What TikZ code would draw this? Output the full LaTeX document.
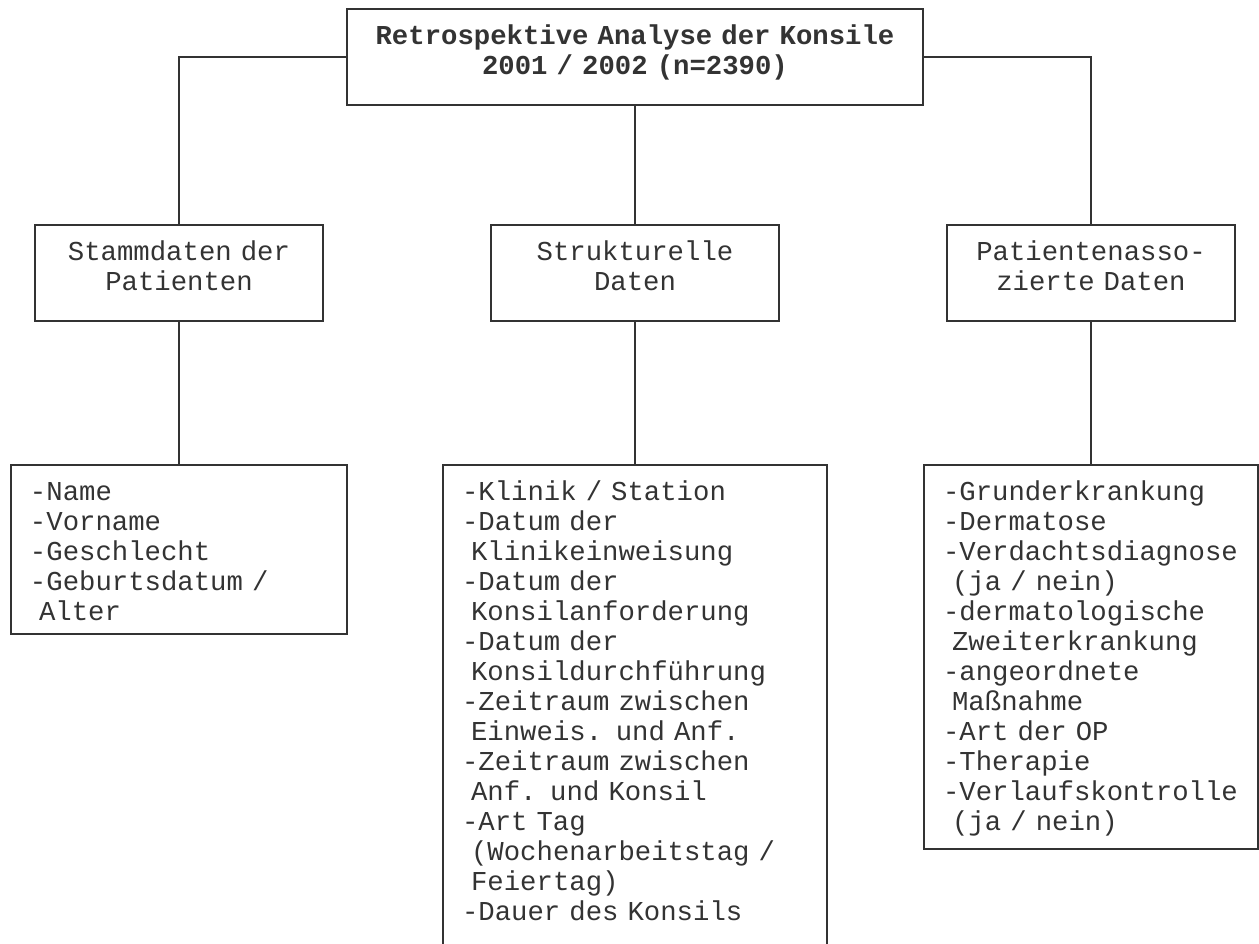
\documentclass[tikz,border=0pt]{standalone}
\usepackage{fontspec}
\setmonofont{Liberation Mono}
\newlength{\pxlen}
\setlength{\pxlen}{0.5pt}
% full-width spaces as in a typewriter face
\newcommand{\fixspace}{\fontdimen2\font=0.6em\fontdimen3\font=0pt\fontdimen4\font=0pt\relax}

\begin{document}
\begin{tikzpicture}
  [x=0.5pt,y=-0.5pt,line width=1pt,black!80,
  every node/.style={font=\ttfamily\fontsize{13.65}{15}\selectfont\fixspace,
  draw,inner ysep=0pt,inner xsep=19\pxlen,text height=35\pxlen,anchor=north},
	head node/.style={align=center,inner xsep=10\pxlen,text width=556\pxlen,
  text depth=61\pxlen,font=\ttfamily\bfseries\fontsize{13.65}{15}\selectfont\fixspace},
	group node/.style={align=center,text width=250\pxlen,text depth=61\pxlen},
	list node/.style={align=left}]

  \useasboundingbox (0,0) rectangle (1259,943);
  \clip (0,0) rectangle (1259,943);

  \node[head node] (K) at (635,8) {Retrospektive Analyse der Konsile\\2001 / 2002 (n=2390)};
  \node[group node] (S) at (179,224) {Stammdaten der\\Patienten};
  \node[group node] (T) at (635,224) {Strukturelle\\Daten};
  \node[group node] (P) at (1091,224) {Patientenasso-\\zierte Daten};

  \node[list node,text width=298\pxlen,text depth=134\pxlen] (Sl) at (179,464)
    {-Name\\-Vorname\\-Geschlecht\\-Geburtsdatum /\\~Alter};
  % bottom of this box lies below the picture edge
  \node[list node,text width=346\pxlen,text depth=466\pxlen] (Tl) at (635,464)
    {-Klinik / Station\\-Datum der\\~Klinikeinweisung\\-Datum der\\~Konsilanforderung\\
     -Datum der\\~Konsildurchführung\\-Zeitraum zwischen\\~Einweis. und Anf.\\
     -Zeitraum zwischen\\~Anf. und Konsil\\-Art Tag\\~(Wochenarbeitstag /\\
     ~Feiertag)\\-Dauer des Konsils};
  \node[list node,text width=296\pxlen,text depth=349\pxlen] (Pl) at (1091,464)
    {-Grunderkrankung\\-Dermatose\\-Verdachtsdiagnose\\~(ja / nein)\\
     -dermatologische\\~Zweiterkrankung\\-angeordnete\\~Maßnahme\\
     -Art der OP\\-Therapie\\-Verlaufskontrolle\\~(ja / nein)};

  \draw (K.west) -| (S.north);
  \draw (K.south) -- (T.north);
  \draw (K.east) -| (P.north);
  \draw (S.south) -- (Sl.north);
  \draw (T.south) -- (Tl.north);
  \draw (P.south) -- (Pl.north);
\end{tikzpicture}
\end{document}
